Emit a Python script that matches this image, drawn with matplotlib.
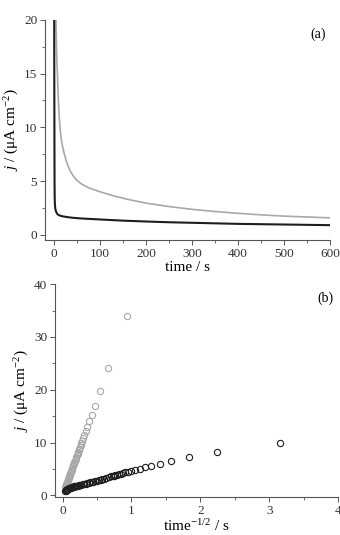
import matplotlib
matplotlib.use('Agg')
import matplotlib.pyplot as plt
from matplotlib.ticker import MultipleLocator

plt.rcParams['font.family'] = ['Liberation Serif', 'DejaVu Serif']
plt.rcParams['mathtext.fontset'] = 'custom'
plt.rcParams['mathtext.rm'] = 'Liberation Serif'
plt.rcParams['mathtext.it'] = 'Liberation Serif:italic'

# (a) current transients
t_gray = [4.0, 4.5, 5.2, 6.2, 7.2, 8.0, 9.0, 10, 11, 12.5, 14, 16, 18, 22, 26, 30,
          35, 42, 50, 60, 75, 100, 130, 160, 200, 250, 300, 350, 400, 450, 500,
          550, 600]
j_gray = [20.5, 19.0, 17.5, 16.0, 15.0, 13.9, 12.8, 11.9, 11.1, 10.2, 9.5, 8.8,
          8.3, 7.55, 6.95, 6.45, 5.95, 5.45, 5.05, 4.72, 4.38, 4.0, 3.62, 3.3, 2.95,
          2.63, 2.37, 2.17, 2.0, 1.86, 1.74, 1.66, 1.58]
t_black = [0.2, 0.5, 0.8, 1.0, 1.3, 1.7, 2.5, 4, 6, 8, 10, 15, 20, 30, 42, 60, 100,
           150, 200, 250, 300, 400, 500, 600]
j_black = [21.0, 14.0, 8.0, 5.0, 3.6, 2.9, 2.45, 2.2, 2.0, 1.9, 1.84, 1.76, 1.71,
           1.64, 1.58, 1.52, 1.43, 1.32, 1.24, 1.17, 1.12, 1.02, 0.96, 0.9]

# (b) j vs time^-1/2
x_gray_b = [0.94, 0.665, 0.543, 0.47, 0.42, 0.384, 0.355, 0.333, 0.313, 0.297,
            0.283, 0.271, 0.26, 0.251, 0.242, 0.235, 0.228, 0.222, 0.216, 0.21,
            0.199, 0.188, 0.18, 0.172, 0.165, 0.159, 0.154, 0.149, 0.141, 0.133,
            0.127, 0.121, 0.112, 0.105, 0.099, 0.094, 0.088, 0.082, 0.077, 0.072,
            0.067, 0.062, 0.058, 0.054, 0.05, 0.047, 0.044, 0.041]
y_gray_b = [34.0, 24.1, 19.7, 17.0, 15.2, 14.0, 12.9, 12.1, 11.4, 10.8,
            10.3, 9.9, 9.5, 9.2, 8.8, 8.6, 8.3, 8.1, 7.9, 7.7,
            7.3, 6.9, 6.6, 6.3, 6.1, 5.9, 5.7, 5.5, 5.2, 4.9,
            4.7, 4.5, 4.2, 3.9, 3.7, 3.5, 3.3, 3.1, 2.9, 2.7,
            2.55, 2.4, 2.25, 2.1, 1.95, 1.8, 1.7, 1.6]
x_black_b = [3.16, 2.24, 1.83, 1.58, 1.41, 1.29, 1.195, 1.118, 1.054, 1.0,
             0.953, 0.913, 0.877, 0.845, 0.816, 0.79, 0.767, 0.745, 0.725, 0.707,
             0.67, 0.632, 0.603, 0.577, 0.555, 0.535, 0.5, 0.47, 0.447, 0.42,
             0.4, 0.378, 0.355, 0.333, 0.316, 0.29, 0.27, 0.258, 0.24, 0.224,
             0.205, 0.19, 0.183, 0.17, 0.158, 0.141, 0.13, 0.12, 0.11, 0.1,
             0.09, 0.08, 0.071, 0.064, 0.058, 0.052, 0.047, 0.043, 0.041]
y_black_b = [10.0, 8.3, 7.3, 6.6, 6.0, 5.6, 5.3, 5.0, 4.8, 4.6,
             4.5, 4.35, 4.2, 4.1, 4.0, 3.9, 3.8, 3.7, 3.65, 3.6,
             3.45, 3.3, 3.2, 3.1, 3.0, 2.95, 2.8, 2.7, 2.6, 2.5,
             2.45, 2.35, 2.3, 2.2, 2.15, 2.08, 2.02, 1.97, 1.92, 1.87,
             1.82, 1.77, 1.74, 1.7, 1.65, 1.58, 1.53, 1.48, 1.44, 1.4,
             1.33, 1.27, 1.2, 1.14, 1.1, 1.03, 0.98, 0.93, 0.9]

GRAY = '#a8a8a8'
BLACK = '#1e1e1e'

fig = plt.figure(figsize=(3.4, 5.35), dpi=100)
ax1 = fig.add_axes([0.132, 0.551, 0.839, 0.412])
ax2 = fig.add_axes([0.162, 0.071, 0.832, 0.398])

ax1.plot(t_gray, j_gray, color=GRAY, lw=1.2)
ax1.plot(t_black, j_black, color=BLACK, lw=1.5)
ax1.set_xlim(-20, 600)
ax1.set_ylim(-0.5, 20)
ax1.xaxis.set_major_locator(MultipleLocator(100))
ax1.xaxis.set_minor_locator(MultipleLocator(50))
ax1.yaxis.set_major_locator(MultipleLocator(5))
ax1.yaxis.set_minor_locator(MultipleLocator(2.5))
ax1.set_xlabel('time / s', fontsize=11, labelpad=1)
ax1.set_ylabel(r'$j$ / ($\mathregular{\mu}$A cm$^{-2}$)', fontsize=11, labelpad=2)
ax1.text(0.985, 0.965, '(a)', transform=ax1.transAxes, ha='right', va='top', fontsize=10)

ax2.plot(x_gray_b, y_gray_b, 'o', ms=4.5, mfc='none', mec=GRAY, mew=0.8, clip_on=False)
ax2.plot(x_black_b, y_black_b, 'o', ms=4.5, mfc='none', mec=BLACK, mew=0.8, clip_on=False)
ax2.set_xlim(-0.11, 4)
ax2.set_ylim(-0.3, 40)
ax2.xaxis.set_major_locator(MultipleLocator(1))
ax2.xaxis.set_minor_locator(MultipleLocator(0.5))
ax2.yaxis.set_major_locator(MultipleLocator(10))
ax2.yaxis.set_minor_locator(MultipleLocator(5))
ax2.set_xlabel(r'time$^{-1/2}$ / s', fontsize=11, labelpad=1)
ax2.set_ylabel(r'$j$ / ($\mathregular{\mu}$A cm$^{-2}$)', fontsize=11, labelpad=2)
ax2.text(0.985, 0.965, '(b)', transform=ax2.transAxes, ha='right', va='top', fontsize=10)

for ax in (ax1, ax2):
    ax.spines['top'].set_visible(False)
    ax.spines['right'].set_visible(False)
    ax.spines['left'].set_color('#555555')
    ax.spines['bottom'].set_color('#555555')
    ax.tick_params(which='both', direction='out', colors='#555555', labelcolor='#333333',
                   labelsize=9.5, pad=2)
    ax.tick_params(which='major', length=3.5, width=0.7)
    ax.tick_params(which='minor', length=2, width=0.6)

fig.savefig('out.png', dpi=100)
